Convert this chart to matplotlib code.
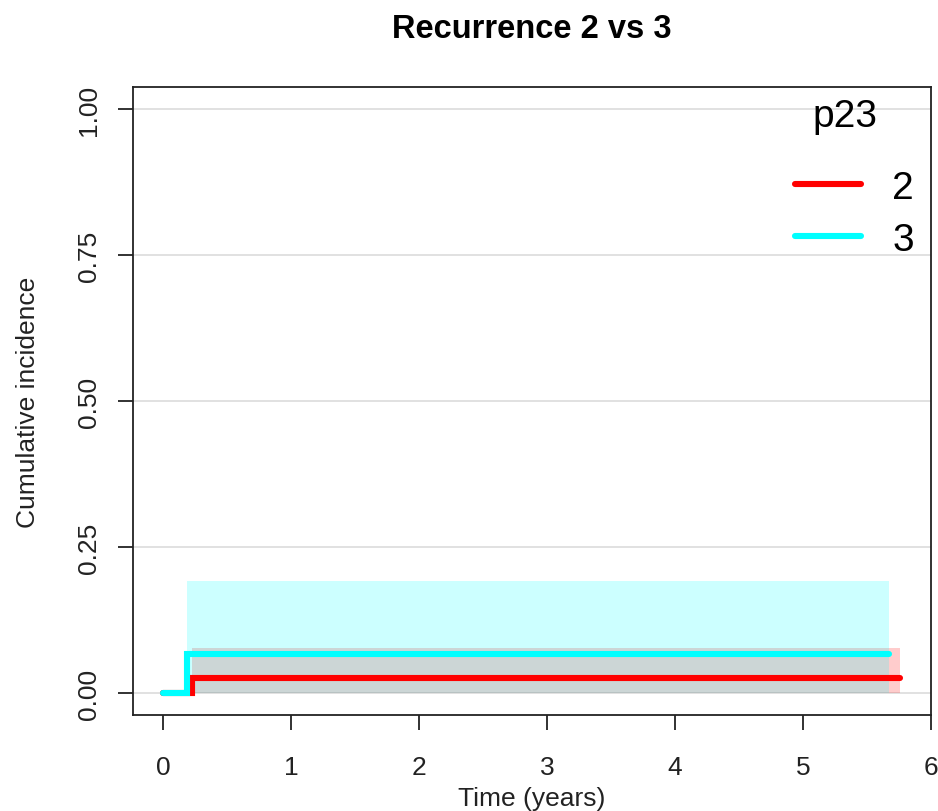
import numpy as np
import matplotlib.pyplot as plt

plt.rcParams['font.family'] = ['Liberation Sans', 'DejaVu Sans']

# cumulative incidence estimates
t2 = [0.0, 0.226, 5.76]
est2 = [0.0, 0.027, 0.027]
lo2 = [0.0, 0.0, 0.0]
hi2 = [0.0, 0.077, 0.077]

t3 = [0.0, 0.187, 5.675]
est3 = [0.0, 0.067, 0.067]
lo3 = [0.0, 0.0, 0.0]
hi3 = [0.0, 0.193, 0.193]

groups = ['2', '3']
cols = ['#FF0000', '#00FFFF']
xticks = [0, 1, 2, 3, 4, 5, 6]
yticks = [0.0, 0.25, 0.5, 0.75, 1.0]

fig = plt.figure(figsize=(9.38, 8.12), dpi=100)
ax = fig.add_axes([0.1418, 0.1182, 0.9925 - 0.1418, 0.8916 - 0.1182])

for y in yticks:
    ax.axhline(y, color='#DCDCDC', lw=1.2, zorder=0)

# bands: red first, then cyan on top (gives the grey overlap)
ax.fill_between(t2[1:], lo2[1:], hi2[1:], step='post', color=cols[0], alpha=0.2, lw=0, zorder=1)
ax.fill_between(t3[1:], lo3[1:], hi3[1:], step='post', color=cols[1], alpha=0.2, lw=0, zorder=1)

ax.step(t2, est2, where='post', color=cols[0], lw=4.4, solid_capstyle='round',
        solid_joinstyle='miter', label=groups[0], zorder=3)
ax.step(t3, est3, where='post', color=cols[1], lw=4.4, solid_capstyle='round',
        solid_joinstyle='miter', label=groups[1], zorder=4)

ax.set_xlim(-0.234, 6.0)
ax.set_ylim(-0.037, 1.038)
ax.set_xticks(xticks)
ax.set_xticklabels([str(x) for x in xticks])
ax.set_yticks(yticks)
ax.set_yticklabels(['%.2f' % y for y in yticks], rotation=90, va='center')
ax.tick_params(direction='out', length=11, width=1.3, labelsize=19, pad=18, colors='#222222')
ax.tick_params(axis='y', pad=12)
for s in ax.spines.values():
    s.set_linewidth(1.3)
    s.set_color('#222222')

ax.set_xlabel('Time (years)', fontsize=19, color='#222222', labelpad=5)
ax.set_ylabel('Cumulative incidence', fontsize=19, color='#222222', labelpad=27)
ax.set_title('Recurrence 2 vs 3', fontsize=23.5, fontweight='bold', pad=36)

leg = ax.legend(loc='upper right', bbox_to_anchor=(1.008, 0.905), frameon=False,
                fontsize=28, handlelength=1.7, handletextpad=0.8,
                labelspacing=0.4, borderaxespad=0.2)
for h in leg.get_lines():
    h.set_linewidth(4.4)
ax.text(0.892, 0.954, 'p23', transform=ax.transAxes, fontsize=28,
        ha='center', va='center')

fig.savefig('out.png', dpi=100)
